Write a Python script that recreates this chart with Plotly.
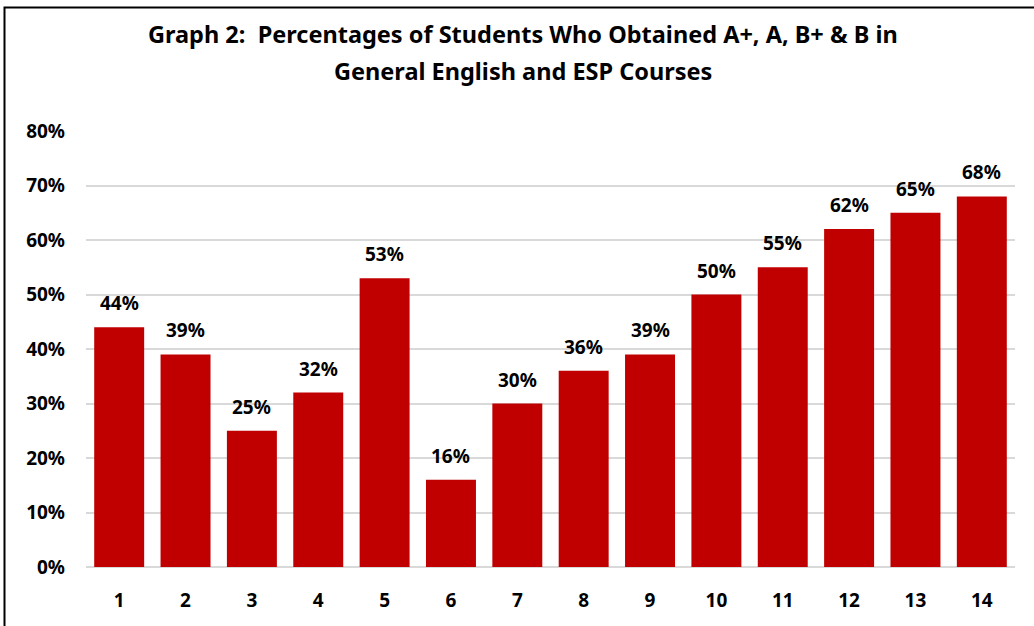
import plotly.graph_objects as go

categories = [str(i) for i in range(1, 15)]
values = [0.44, 0.39, 0.25, 0.32, 0.53, 0.16, 0.30, 0.36, 0.39, 0.50, 0.55, 0.62, 0.65, 0.68]
labels = [f"{round(v*100)}%" for v in values]
y_ticks = [0, 0.1, 0.2, 0.3, 0.4, 0.5, 0.6, 0.7, 0.8]
y_tick_text = [f"{round(t*100)}%" for t in y_ticks]
title_lines = ["Graph 2:  Percentages of Students Who Obtained A+, A, B+ &amp; B in",
               "General English and ESP Courses"]

FONT = "Noto Sans"
W, H = 1034, 626
ML, MR, MT, MB = 86, 19, 131, 59
pw = W - ML - MR
ph = H - MT - MB

xpos = list(range(1, len(categories) + 1))

fig = go.Figure(go.Bar(
    x=xpos, y=values,
    marker=dict(color="#C00000", line=dict(width=0)),
    hoverinfo="skip",
))

for xp, v, t in zip(xpos, values, labels):
    fig.add_annotation(x=xp, y=v, text=f"<b>{t}</b>", showarrow=False,
                       yanchor="bottom", yshift=9,
                       font=dict(family=FONT, size=19, color="#000000"))

for line, ypx in zip(title_lines, [34, 71]):
    fig.add_annotation(
        xref="paper", yref="paper", x=(523 - ML) / pw, y=1 + (MT - ypx) / ph,
        xanchor="center", yanchor="middle", showarrow=False,
        text=f"<b>{line}</b>",
        font=dict(family=FONT, size=23.5, color="#000000"),
    )

fig.add_shape(type="rect", xref="paper", yref="paper",
              x0=(4.5 - ML) / pw, x1=(1040 - ML) / pw,
              y0=-0.3, y1=1 + (MT - 7.5) / ph,
              line=dict(color="#000000", width=2), fillcolor="rgba(0,0,0,0)",
              layer="above")

fig.update_layout(
    width=W, height=H,
    margin=dict(l=ML, r=MR, t=MT, b=MB, pad=0),
    paper_bgcolor="white", plot_bgcolor="white",
    bargap=0.247,
    showlegend=False,
    font=dict(family=FONT, color="#000000"),
    xaxis=dict(
        range=[0.5, len(categories) + 0.5],
        tickvals=xpos, ticktext=categories,
        showgrid=False, showline=False, zeroline=False,
        ticks="", ticklabelstandoff=20,
        tickfont=dict(family=FONT, size=19, color="#000000", weight="bold"),
    ),
    yaxis=dict(
        range=[0, 0.8],
        tickvals=y_ticks, ticktext=y_tick_text,
        showgrid=True, gridcolor="#D9D9D9", gridwidth=1.5,
        zeroline=True, zerolinecolor="#D9D9D9", zerolinewidth=1.5,
        showline=False, ticks="", ticklabelstandoff=20,
        tickfont=dict(family=FONT, size=19, color="#000000", weight="bold"),
    ),
)

fig.write_html("out.html")
